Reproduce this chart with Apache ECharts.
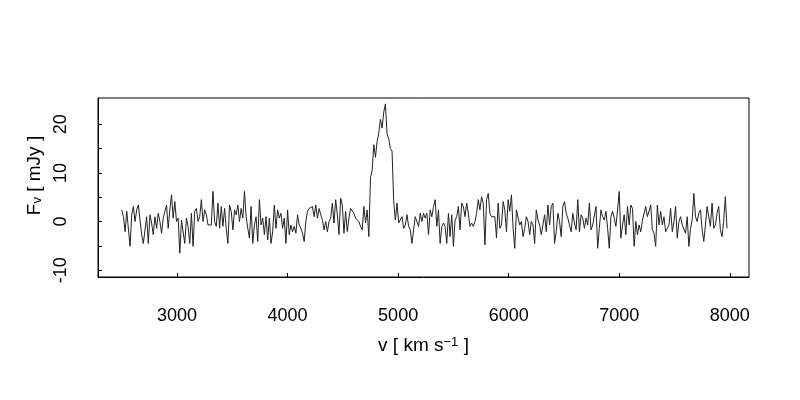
<!DOCTYPE html>
<html><head><meta charset="utf-8">
<script src="https://cdn.jsdelivr.net/npm/echarts@6/dist/echarts.min.js"></script>
<style>html,body{margin:0;padding:0;background:#fff}#c{width:800px;height:400px}</style>
</head><body><div id="c"></div>
<script>
// velocity grid (km/s)
const v0 = 2500;
const dv = 15;
// flux density (mJy), in order of velocity
const segA = [2.4,1.0,-2.1,2.1,2.4,-5.1,1.4,3.1,0.0,2.4,
3.4,3.8,-2.7,-4.5,-4.8,1.0,-4.5,1.4,-0.3,-2.7,
1.0,-1.4,1.7,0.0,-2.4,0.7,0.3,3.4,-1.4,2.4,
5.5,0.7,4.1,0.0,0.7,-6.5,0.3,0.7,-4.5,0.7,
-1.0,-4.5,1.7,-5.1,2.1,2.7,0.0,1.0,4.5,0.0,
2.4,1.4,-0.7,-1.0,-0.7,6.2,0.0,-1.0,3.8,-1.4,
3.1,-1.0,2.7,-1.4,-4.5,3.4,2.1,-1.7,2.4,1.4,
3.4,0.0,2.7];
const segB = [0.7,6.2,1.0,-1.4,-3.4,3.1,-4.5,-0.7,1.0,-4.1,
4.5,-0.7,0.7,-2.7,1.0,-3.8,0.7,-4.5,-2.1,3.4,
-1.4,2.4,0.7,1.7,-1.4,0.7,-4.5,2.4,-2.7,-0.7,
-2.1,-1.0,-2.4,1.4,-0.7,-1.4,-2.4,-4.1,0.0,2.1,
2.7,2.4,3.1,1.0,3.4,0.7,2.7,1.4,0.3,-1.7,
0.0,-2.1,0.0,0.7,3.8,-0.3,4.5,1.4,-2.7,4.8,
3.4,-2.4,2.1,-2.1,0.7,2.7,2.4,1.7,0.7,0.3,
0.0,-1.0,-1.7,3.1,-0.3,2.4,-3.1];
const segLine = [9.0,10.5,15.8,13.2,16.5,18.2,21.0,19.2,22.5,24.2,18.0,17.0,15.0,14.5];
const segD = [4.1,0.3,3.8,-0.3,-0.7,1.0,-1.4,-0.7,1.4,-1.0,
-1.7,-4.5,-1.7,1.0,1.0,-1.0,1.7,0.0,
1.7,0.7,1.7,-2.7,2.4,1.0,3.1,4.5,-1.0,2.4,
-4.5,-1.0,-0.3,-1.0,-4.5,1.7,-3.1,1.4,-5.1,
0.3,1.0,3.1,-1.7,3.8,3.1,1.0,3.8,1.7,-1.0,
-0.3,-1.0,0.0,1.7,4.5,2.4,5.1,3.8,-4.8,
4.5,5.8,1.7,1.0,0.7];
const segE = [1.0,-3.4,3.8,-1.4,-0.7,4.1,2.4,-2.1,4.5,2.1,
5.5,-1.4,-5.5,2.4,2.7,-0.7,0.0,-3.1,-1.4,1.0,
0.0,-2.7,0.0,-0.7,-4.5,2.4,0.3,-0.7,-2.7,-3.1,
1.4,-2.1,3.4,-0.7,3.1,3.8,-4.5,-2.1,1.7,0.0,
-3.1,3.1,4.1,1.7,0.7,0.7,-2.1,1.7,-0.3,-1.7,
4.5,-2.1,1.4,0.7,-1.4,0.7,-0.7,3.8,-1.7,-0.7,
-0.7,3.1,-5.5,-1.4,2.4,1.0,0.3,2.1,-1.4,-5.5,
1.0,2.1,0.7,-1.0,2.4,6.2,-3.4];
const segF = [-0.7,1.4,-2.7,3.1,-0.7,3.4,2.7,-5.1,0.0,-2.7,
-0.7,-2.1,0.3,0.3,3.1,1.0,0.7,3.4,-1.7,-2.4,
-5.1,3.4,-0.7,2.1,-0.7,1.0,-2.1,-1.4,-0.7,2.7,
-2.1,0.0,3.1,-3.4,0.0,1.0,-0.7,-1.0,-2.4,1.0,
-5.1,-1.4,0.3,5.8,1.0,0.0,1.7,2.4,-1.7,-4.1,
-0.7,3.1,1.0,-1.0,3.8,-1.4,-0.7,1.7,3.1,-1.7,
-3.1,0.0,5.1,-1.4];
const flux = [].concat(segA, segB, segLine, segD, segE, segF);

const xTicks = [3000, 4000, 5000, 6000, 7000, 8000];
const yTicks = [-10, -5, 0, 5, 10, 15, 20];
const yLabels = [-10, 0, 10, 20];

const FONT = '"Liberation Sans", Arial, Helvetica, sans-serif';
const chart = echarts.init(document.getElementById('c'), null, {renderer: 'canvas'});
chart.setOption({
  animation: false,
  backgroundColor: '#fff',
  grid: {left: 98, right: 51, top: 98, bottom: 123, show: true, borderColor: '#000', borderWidth: 1, backgroundColor: 'transparent'},
  xAxis: {
    type: 'value', min: 2285, max: 8174,
    axisLine: {show: true, onZero: false, lineStyle: {color: '#000', width: 1}},
    axisTick: {show: true, inside: true, length: 4, customValues: xTicks, lineStyle: {color: '#000'}},
    axisLabel: {show: true, customValues: xTicks, margin: 30, color: '#000', fontSize: 18, fontFamily: FONT,
      formatter: (v) => String(v)},
    splitLine: {show: false},
    name: 'v [ km s{sup|\u22121} ]', nameLocation: 'middle', nameGap: 59,
    nameTextStyle: {color: '#000', fontSize: 19, fontFamily: FONT,
      rich: {sup: {fontSize: 13, fontFamily: FONT, color: '#000', verticalAlign: 'top'}}}
  },
  yAxis: {
    type: 'value', min: -11.4, max: 25.4,
    axisLine: {show: true, onZero: false, lineStyle: {color: '#000', width: 1}},
    axisTick: {show: true, inside: true, length: 4, customValues: yTicks, lineStyle: {color: '#000'}},
    axisLabel: {show: true, customValues: yLabels, rotate: 90, margin: 28, color: '#000', fontSize: 18, fontFamily: FONT,
      formatter: (v) => String(v)},
    splitLine: {show: false},
    name: 'F{sub|v} [ mJy ]', nameLocation: 'middle', nameRotate: 90, nameGap: 51,
    nameTextStyle: {color: '#000', fontSize: 19, fontFamily: FONT, padding: [0, 0, 0, 24],
      rich: {sub: {fontSize: 13, fontFamily: FONT, color: '#000', verticalAlign: 'bottom'}}}
  },
  series: [{
    type: 'line',
    data: flux.map((f, i) => [v0 + i * dv, f]),
    showSymbol: false, symbol: 'none',
    lineStyle: {color: '#222', width: 1},
    silent: true
  }]
});
</script>
</body></html>
